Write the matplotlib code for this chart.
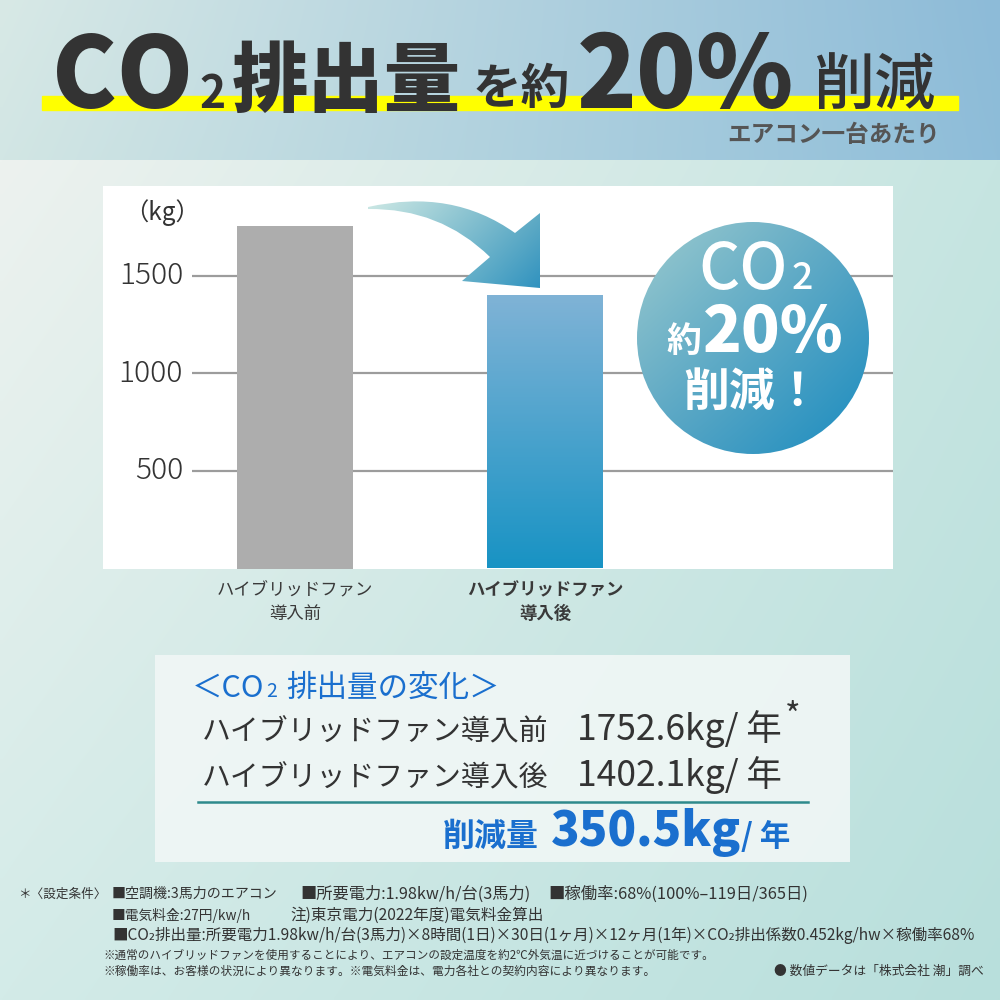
import numpy as np
import matplotlib
matplotlib.use('Agg')
import matplotlib.pyplot as plt
from matplotlib.patches import Rectangle, Circle, PathPatch
from matplotlib.path import Path
from matplotlib.colors import to_rgb

plt.rcParams['font.family'] = ['Noto Sans CJK JP', 'DejaVu Sans']

# ---------------- data ----------------
categories = ['ハイブリッドファン\n導入前', 'ハイブリッドファン\n導入後']
co2_kg = [1752.6, 1402.1]
reduction_kg = 350.5
yticks = [500, 1000, 1500]
ytick_labels = ['500', '1000', '1500']
y_max = 1960
unit_label = '（kg）'

fig = plt.figure(figsize=(10, 10), dpi=100)
renderer = fig.canvas.get_renderer()

# background axes in pixel coordinates
bg = fig.add_axes([0, 0, 1, 1], zorder=0)
bg.set_xlim(0, 1000)
bg.set_ylim(1000, 0)
bg.axis('off')


def grad(ax, extent, tl, tr, bl, br, clip=None, zorder=0, n=200):
    tl, tr, bl, br = [np.array(to_rgb(c)) for c in (tl, tr, bl, br)]
    u = np.linspace(0, 1, n)[None, :, None]
    v = np.linspace(0, 1, n)[:, None, None]
    img = (1 - v) * ((1 - u) * tl + u * tr) + v * ((1 - u) * bl + u * br)
    im = ax.imshow(img, extent=extent, origin='upper', aspect='auto',
                   zorder=zorder, interpolation='bilinear')
    if clip is not None:
        im.set_clip_path(clip)
    return im


def flow(ax, x, y, parts, zorder=3):
    """Place text runs one after another (pixel-coordinate axes)."""
    for s, gap, kw in parts:
        x += gap
        t = ax.text(x, y, s, zorder=zorder, **kw)
        x += t.get_window_extent(renderer).width
    return x


# page background
grad(bg, (0, 1000, 1000, 160), '#edf2ef', '#c6e5e1', '#d3ebe8', '#b8dfdc')
grad(bg, (0, 1000, 160, 0), '#d8e9e6', '#8dbbd8', '#d2e6e4', '#8ebdd9')
bg.set_xlim(0, 1000)
bg.set_ylim(1000, 0)

# title
bg.add_patch(Rectangle((42, 96), 916, 14, color='#ffff00', zorder=1))
tc = '#333333'
bg.text(52, 108, 'CO', fontsize=70, fontweight='black', color=tc, zorder=2)
bg.text(199, 108, '2', fontsize=32, fontweight='bold', color=tc, zorder=2)
bg.text(232, 106, '排出量', fontsize=55, fontweight='black', color=tc, zorder=2)
bg.text(473, 104, 'を約', fontsize=35, fontweight='bold', color=tc, zorder=2)
bg.text(577, 108, '20%', fontsize=71, fontweight='black', color=tc, zorder=2)
bg.text(813, 104, '削減', fontsize=44, fontweight='medium', color=tc, zorder=2)
bg.text(940, 135, 'エアコン一台あたり', fontsize=17, fontweight='bold',
        color='#555555', ha='right', va='center', zorder=2)

# ---------------- chart ----------------
top_px, bot_px, left_px, right_px = 186, 568.5, 103, 893
ax = fig.add_axes([left_px / 1000, 1 - bot_px / 1000,
                   (right_px - left_px) / 1000, (bot_px - top_px) / 1000], zorder=1)
ax.set_facecolor('white')
x = np.arange(len(co2_kg))
for s in ax.spines.values():
    s.set_visible(False)
ax.set_xticks([])
ax.set_yticks([])

ax.hlines(yticks, -0.412, 2.392, color='#9c9c9c', lw=1.6, zorder=1)
for v, lab in zip(yticks, ytick_labels):
    ax.text(-0.448, v, lab, ha='right', va='center', fontsize=21.5,
            fontweight='light', color='#333333')

bars = ax.bar(x, co2_kg, width=0.464, color=['#adadad', 'none'], zorder=3)
b = bars[1]
grad(ax, (b.get_x(), b.get_x() + b.get_width(), 0, b.get_height()),
     '#80b3d6', '#80b3d6', '#1893c4', '#1893c4', clip=b, zorder=3)
ax.set_xlim(-0.768, 2.392)
ax.set_ylim(0, y_max)

fig.text(162 / 1000, 1 - 213 / 1000, unit_label, fontsize=17.5, color='#333333',
         ha='center', va='center')

xt = ax.get_xaxis_transform()
for i, lab in enumerate(categories):
    ax.text(x[i], -0.088, lab, transform=xt, ha='center', va='center',
            fontsize=12.5, linespacing=1.45, color='#3a3a3a',
            fontweight='bold' if i == 1 else 'normal')

# ---------------- overlay: arrow + circle ----------------
ov = fig.add_axes([0, 0, 1, 1], zorder=2)
ov.set_xlim(0, 1000)
ov.set_ylim(1000, 0)
ov.axis('off')
ov.patch.set_alpha(0)

verts = [(368, 207), (452, 188), (515, 233), (540, 213), (540, 288),
         (462, 281), (490, 257), (440, 208), (368, 209), (368, 207)]
codes = [Path.MOVETO, Path.CURVE3, Path.CURVE3, Path.LINETO, Path.LINETO,
         Path.LINETO, Path.LINETO, Path.CURVE3, Path.CURVE3, Path.CLOSEPOLY]
arrow = PathPatch(Path(verts, codes), fc='none', ec='none')
ov.add_patch(arrow)
grad(ov, (365, 542, 290, 188), '#d6ede8', '#6fb3c6', '#9ccfd3', '#2e91bf',
     clip=arrow, zorder=2)

circ = Circle((753, 338), 116, fc='none', ec='none')
ov.add_patch(circ)
grad(ov, (637, 869, 454, 222), '#9ccbcf', '#5aa6c4', '#5aa6c4', '#1a8cc0',
     clip=circ, zorder=2)
ov.set_xlim(0, 1000)
ov.set_ylim(1000, 0)
w = 'white'
flow(ov, 698, 289, [('CO', 0, dict(fontsize=46, fontweight='medium', color=w)),
                    ('2', 4, dict(fontsize=27, fontweight='medium', color=w))])
flow(ov, 666, 352, [('約', 0, dict(fontsize=25, fontweight='bold', color=w)),
                    ('20%', 2, dict(fontsize=46, fontweight='black', color=w))])
ov.text(752, 393, '削減！', fontsize=33, fontweight='bold', color=w,
        ha='center', va='center', zorder=3)

# ---------------- summary box ----------------
bg.add_patch(Rectangle((155, 655), 695, 207, fc='#f1f7f6', ec='none',
                       alpha=0.9, zorder=1))
blue = '#1a6fce'
flow(bg, 192, 697, [('＜CO', 0, dict(fontsize=22, color=blue)),
                    ('2', 2, dict(fontsize=14, color=blue)),
                    ('排出量の変化＞', 9, dict(fontsize=22, color=blue))])

dark = '#333333'
bg.text(202, 740, 'ハイブリッドファン導入前', fontsize=20.8, color=dark, zorder=2)
end1 = flow(bg, 577, 740, [(f'{co2_kg[0]}kg/ 年', 0, dict(fontsize=25.5, color=dark))])
bg.text(end1 + 3, 727, '*', fontsize=24, color=dark, zorder=3)
bg.text(202, 786, 'ハイブリッドファン導入後', fontsize=20.8, color=dark, zorder=2)
bg.text(577, 786, f'{co2_kg[1]}kg/ 年', fontsize=25.5, color=dark, zorder=2)
bg.plot([198, 808], [802, 802], color='#2e8a8c', lw=1.8, zorder=2)
flow(bg, 443, 846, [('削減量', 0, dict(fontsize=23, fontweight='bold', color=blue)),
                    (f'{reduction_kg}kg', 12, dict(fontsize=34, fontweight='black', color=blue)),
                    ('/ 年', 0, dict(fontsize=22, fontweight='bold', color=blue))])


# ---------------- notes ----------------
def fit(x0, x1, y, s, size, **kw):
    t = bg.text(x0, y, s, fontsize=size, va='center', color=dark, zorder=2, **kw)
    wpx = t.get_window_extent(renderer).width
    t.set_fontsize(size * (x1 - x0) / wpx)
    return t


fit(18, 106, 894, '＊〈設定条件〉', 11)
fit(112, 278, 894, '■空調機:3馬力のエアコン', 11)
fit(300, 530, 894, '■所要電力:1.98kw/h/台(3馬力)', 11)
fit(548, 808, 894, '■稼働率:68%(100%–119日/365日)', 11)
fit(112, 251, 915, '■電気料金:27円/kw/h', 11)
fit(290, 543, 915, '注)東京電力(2022年度)電気料金算出', 11)
fit(112, 977, 935, '■CO₂排出量:所要電力1.98kw/h/台(3馬力)×8時間(1日)×30日(1ヶ月)×12ヶ月(1年)×CO₂排出係数0.452kg/hw×稼働率68%', 11)
fit(103, 711, 955, '※通常のハイブリッドファンを使用することにより、エアコンの設定温度を約2℃外気温に近づけることが可能です。', 10)
fit(103, 653, 971, '※稼働率は、お客様の状況により異なります。※電気料金は、電力各社との契約内容により異なります。', 10)
fit(774, 984, 971, '● 数値データは「株式会社 潮」調べ', 10)

fig.savefig('out.png', dpi=100)
